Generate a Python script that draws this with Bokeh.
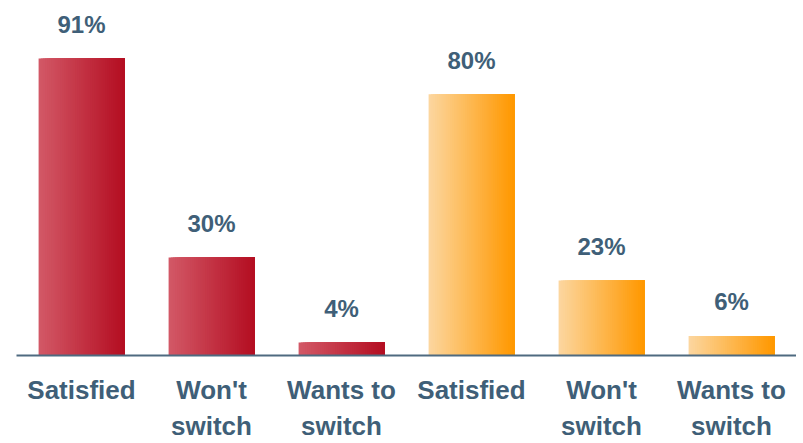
from bokeh.plotting import figure
from bokeh.models import Range1d, FixedTicker, ColumnDataSource, LabelSet
from bokeh.embed import file_html
from bokeh.resources import INLINE
from bokeh.core.properties import value

categories = ["Satisfied", "Won't\nswitch", "Wants to\nswitch", "Satisfied", "Won't\nswitch", "Wants to\nswitch"]
values = [91, 30, 4, 80, 23, 6]
groups = ["red", "red", "red", "orange", "orange", "orange"]
labels = ["91%", "30%", "4%", "80%", "23%", "6%"]

grad = {
    "red": ((210, 88, 102), (180, 14, 34)),
    "orange": ((252, 214, 158), (255, 152, 0)),
}

TEXT = "#3f5f78"
FONT = "Liberation Sans"

p = figure(width=796, height=443, output_backend="svg", toolbar_location=None,
           x_range=Range1d(-0.5, 5.5), y_range=Range1d(0, 106.3),
           min_border_left=16, min_border_right=0, min_border_top=8, min_border_bottom=0)
p.outline_line_color = None
p.grid.grid_line_color = None
p.yaxis.visible = False

# gradient bars: overlapping strips (each runs to the bar's right edge)
N = 40
bw = 0.66
l, r, t, c = [], [], [], []
for i, (v, g) in enumerate(zip(values, groups)):
    c0, c1 = grad[g]
    x0 = i - bw / 2
    for k in range(N):
        f = k / (N - 1)
        col = "#%02x%02x%02x" % tuple(int(round(a + (b - a) * f)) for a, b in zip(c0, c1))
        l.append(x0 + bw * k / N)
        r.append(x0 + bw)
        t.append(v)
        c.append(col)
p.quad(left=l, right=r, bottom=0, top=t, fill_color=c, line_color=None)

src = ColumnDataSource(dict(x=list(range(len(values))), y=values, t=labels))
p.add_layout(LabelSet(x="x", y="y", text="t", source=src, y_offset=34,
                      text_align="center", text_baseline="middle",
                      text_font=value(FONT), text_font_style="bold",
                      text_font_size="24px", text_color=TEXT))

ax = p.xaxis[0]
ax.ticker = FixedTicker(ticks=list(range(len(categories))))
ax.major_label_overrides = {i: s for i, s in enumerate(categories)}
ax.major_tick_line_color = None
ax.minor_tick_line_color = None
ax.axis_line_color = "#4e6a80"
ax.axis_line_width = 2
ax.major_label_text_font = FONT
ax.major_label_text_font_style = "bold"
ax.major_label_text_font_size = "26px"
ax.major_label_text_color = TEXT
ax.major_label_standoff = 13

open("out.html", "w").write(file_html(p, INLINE))
